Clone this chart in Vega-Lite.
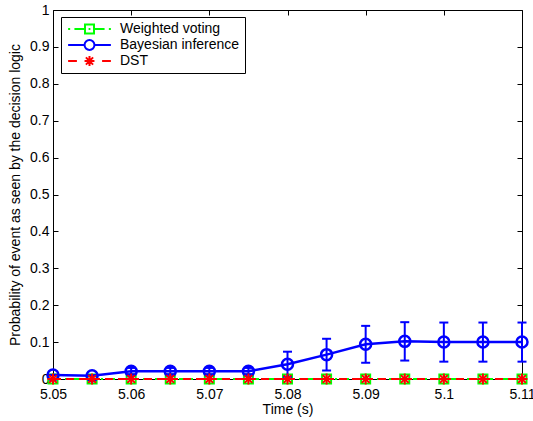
{
  "$schema": "https://vega.github.io/schema/vega-lite/v6.json",
  "width": 469,
  "height": 369,
  "autosize": "none",
  "padding": {"left": 53, "top": 10, "right": 11, "bottom": 42},
  "background": "white",
  "config": {
    "view": {"stroke": null},
    "font": "Liberation Sans",
    "axis": {
      "grid": false,
      "domainColor": "black",
      "domainWidth": 1,
      "tickColor": "black",
      "tickWidth": 1,
      "tickSize": -5,
      "labelFlush": false,
      "labelOverlap": false,
      "labelFont": "Liberation Sans",
      "labelFontSize": 14,
      "labelColor": "black",
      "titleFont": "Liberation Sans",
      "titleFontSize": 14,
      "titleFontWeight": "normal",
      "titleColor": "black"
    }
  },
  "data": {
    "values": [
      {"s": "Weighted voting", "x": 5.05, "y": 0, "lo": 0, "hi": 0},
      {"s": "Weighted voting", "x": 5.055, "y": 0, "lo": 0, "hi": 0},
      {"s": "Weighted voting", "x": 5.06, "y": 0, "lo": 0, "hi": 0},
      {"s": "Weighted voting", "x": 5.065, "y": 0, "lo": 0, "hi": 0},
      {"s": "Weighted voting", "x": 5.07, "y": 0, "lo": 0, "hi": 0},
      {"s": "Weighted voting", "x": 5.075, "y": 0, "lo": 0, "hi": 0},
      {"s": "Weighted voting", "x": 5.08, "y": 0, "lo": 0, "hi": 0},
      {"s": "Weighted voting", "x": 5.085, "y": 0, "lo": 0, "hi": 0},
      {"s": "Weighted voting", "x": 5.09, "y": 0, "lo": 0, "hi": 0},
      {"s": "Weighted voting", "x": 5.095, "y": 0, "lo": 0, "hi": 0},
      {"s": "Weighted voting", "x": 5.1, "y": 0, "lo": 0, "hi": 0},
      {"s": "Weighted voting", "x": 5.105, "y": 0, "lo": 0, "hi": 0},
      {"s": "Weighted voting", "x": 5.11, "y": 0, "lo": 0, "hi": 0},
      {"s": "Bayesian inference", "x": 5.05, "y": 0.011, "lo": 0.011, "hi": 0.011},
      {"s": "Bayesian inference", "x": 5.055, "y": 0.009, "lo": 0.009, "hi": 0.009},
      {"s": "Bayesian inference", "x": 5.06, "y": 0.021, "lo": 0.013, "hi": 0.03},
      {"s": "Bayesian inference", "x": 5.065, "y": 0.021, "lo": 0.013, "hi": 0.03},
      {"s": "Bayesian inference", "x": 5.07, "y": 0.021, "lo": 0.013, "hi": 0.03},
      {"s": "Bayesian inference", "x": 5.075, "y": 0.021, "lo": 0.013, "hi": 0.03},
      {"s": "Bayesian inference", "x": 5.08, "y": 0.04, "lo": 0.006, "hi": 0.074},
      {"s": "Bayesian inference", "x": 5.085, "y": 0.066, "lo": 0.023, "hi": 0.109},
      {"s": "Bayesian inference", "x": 5.09, "y": 0.094, "lo": 0.044, "hi": 0.144},
      {"s": "Bayesian inference", "x": 5.095, "y": 0.102, "lo": 0.05, "hi": 0.154},
      {"s": "Bayesian inference", "x": 5.1, "y": 0.1, "lo": 0.047, "hi": 0.153},
      {"s": "Bayesian inference", "x": 5.105, "y": 0.1, "lo": 0.047, "hi": 0.153},
      {"s": "Bayesian inference", "x": 5.11, "y": 0.1, "lo": 0.047, "hi": 0.153},
      {"s": "DST", "x": 5.05, "y": 0, "lo": 0, "hi": 0},
      {"s": "DST", "x": 5.055, "y": 0, "lo": 0, "hi": 0},
      {"s": "DST", "x": 5.06, "y": 0, "lo": 0, "hi": 0},
      {"s": "DST", "x": 5.065, "y": 0, "lo": 0, "hi": 0},
      {"s": "DST", "x": 5.07, "y": 0, "lo": 0, "hi": 0},
      {"s": "DST", "x": 5.075, "y": 0, "lo": 0, "hi": 0},
      {"s": "DST", "x": 5.08, "y": 0, "lo": 0, "hi": 0},
      {"s": "DST", "x": 5.085, "y": 0, "lo": 0, "hi": 0},
      {"s": "DST", "x": 5.09, "y": 0, "lo": 0, "hi": 0},
      {"s": "DST", "x": 5.095, "y": 0, "lo": 0, "hi": 0},
      {"s": "DST", "x": 5.1, "y": 0, "lo": 0, "hi": 0},
      {"s": "DST", "x": 5.105, "y": 0, "lo": 0, "hi": 0},
      {"s": "DST", "x": 5.11, "y": 0, "lo": 0, "hi": 0}
    ]
  },
  "resolve": {"axis": {"x": "independent", "y": "independent"}},
  "layer": [
    {
      "transform": [{"filter": "datum.s === 'Weighted voting'"}],
      "mark": {"type": "line", "color": "#00ff00", "strokeWidth": 2, "strokeDash": [8, 4, 2, 4]},
      "encoding": {
        "x": {"field": "x", "type": "quantitative", "scale": {"domain": [5.05, 5.11], "nice": false, "zero": false},
          "axis": {"orient": "bottom", "values": [5.05, 5.06, 5.07, 5.08, 5.09, 5.1, 5.11], "format": "~g", "labelPadding": 13, "title": "Time (s)", "titleX": 234.5, "titleY": 34, "titleBaseline": "alphabetic", "titleAlign": "center"}},
        "y": {"field": "y", "type": "quantitative", "scale": {"domain": [0, 1], "nice": false},
          "axis": {"orient": "left", "values": [0, 0.1, 0.2, 0.3, 0.4, 0.5, 0.6, 0.7, 0.8, 0.9, 1], "format": "~g", "labelPadding": 9, "title": "Probability of event as seen by the decision logic", "titleX": -34, "titleY": 184.5, "titleAngle": -90, "titleBaseline": "alphabetic", "titleAlign": "center"}}
      }
    },
    {
      "transform": [{"filter": "datum.s === 'Weighted voting'"}],
      "mark": {"type": "point", "shape": "square", "size": 81, "filled": false, "color": "#00ff00", "strokeWidth": 2, "opacity": 1},
      "encoding": {
        "x": {"field": "x", "type": "quantitative", "axis": {"orient": "top", "values": [5.05, 5.06, 5.07, 5.08, 5.09, 5.1, 5.11], "labels": false, "title": null}},
        "y": {"field": "y", "type": "quantitative", "axis": {"orient": "right", "values": [0, 0.1, 0.2, 0.3, 0.4, 0.5, 0.6, 0.7, 0.8, 0.9, 1], "labels": false, "title": null}}
      }
    },
    {
      "transform": [{"filter": "datum.s === 'Bayesian inference'"}],
      "mark": {"type": "rule", "color": "#0000ff", "strokeWidth": 2},
      "encoding": {
        "x": {"field": "x", "type": "quantitative", "axis": null},
        "y": {"field": "lo", "type": "quantitative", "axis": null},
        "y2": {"field": "hi"}
      }
    },
    {
      "transform": [{"filter": "datum.s === 'Bayesian inference'"}],
      "mark": {"type": "tick", "orient": "horizontal", "color": "#0000ff", "size": 9, "thickness": 2, "opacity": 1},
      "encoding": {
        "x": {"field": "x", "type": "quantitative", "axis": null},
        "y": {"field": "lo", "type": "quantitative", "axis": null}
      }
    },
    {
      "transform": [{"filter": "datum.s === 'Bayesian inference'"}],
      "mark": {"type": "tick", "orient": "horizontal", "color": "#0000ff", "size": 9, "thickness": 2, "opacity": 1},
      "encoding": {
        "x": {"field": "x", "type": "quantitative", "axis": null},
        "y": {"field": "hi", "type": "quantitative", "axis": null}
      }
    },
    {
      "transform": [{"filter": "datum.s === 'Bayesian inference'"}],
      "mark": {"type": "line", "color": "#0000ff", "strokeWidth": 2.5},
      "encoding": {
        "x": {"field": "x", "type": "quantitative", "axis": null},
        "y": {"field": "y", "type": "quantitative", "axis": null}
      }
    },
    {
      "transform": [{"filter": "datum.s === 'Bayesian inference'"}],
      "mark": {"type": "point", "shape": "circle", "size": 121, "filled": false, "color": "#0000ff", "strokeWidth": 2.5, "opacity": 1},
      "encoding": {
        "x": {"field": "x", "type": "quantitative", "axis": null},
        "y": {"field": "y", "type": "quantitative", "axis": null}
      }
    },
    {
      "transform": [{"filter": "datum.s === 'DST'"}],
      "mark": {"type": "line", "color": "#ff0000", "strokeWidth": 2, "strokeDash": [8, 5]},
      "encoding": {
        "x": {"field": "x", "type": "quantitative", "axis": null},
        "y": {"field": "y", "type": "quantitative", "axis": null}
      }
    },
    {
      "transform": [{"filter": "datum.s === 'DST'"}],
      "mark": {"type": "point", "shape": "M-1,0H1M0,-1V1M-0.7,-0.7L0.7,0.7M-0.7,0.7L0.7,-0.7", "size": 121, "filled": false, "color": "#ff0000", "strokeWidth": 2, "opacity": 1},
      "encoding": {
        "x": {"field": "x", "type": "quantitative", "axis": null},
        "y": {"field": "y", "type": "quantitative", "axis": null}
      }
    },
    {
      "mark": {"type": "point", "filled": false, "opacity": 0, "size": 2025, "strokeWidth": 2},
      "encoding": {
        "x": {"field": "x", "type": "quantitative", "axis": null},
        "y": {"field": "y", "type": "quantitative", "axis": null},
        "color": {"field": "s", "type": "nominal",
          "scale": {"domain": ["Weighted voting", "Bayesian inference", "DST"], "range": ["#00ff00", "#0000ff", "#ff0000"]},
          "legend": {"orient": "none", "legendX": 8, "legendY": 7, "title": null, "strokeColor": "black", "fillColor": "white", "padding": 5, "cornerRadius": 0, "symbolSize": 2025, "symbolStrokeWidth": 2, "symbolOpacity": 1, "labelFont": "Liberation Sans", "labelFontSize": 14, "labelColor": "black", "labelOffset": 7, "symbolOffset": 0, "rowPadding": 2, "clipHeight": 14}},
        "shape": {"field": "s", "type": "nominal",
          "scale": {"domain": ["Weighted voting", "Bayesian inference", "DST"], "range": [
            "M-0.95,0H-0.86M-0.67,0H-0.2M0.2,0H0.67M0.86,0H0.95M-0.2,-0.2H0.2V0.2H-0.2ZM-0.04,0H0.04",
            "M-0.95,0H-0.22M0.22,0H0.95M-0.22,0A0.22,0.22 0 1,1 0.22,0A0.22,0.22 0 1,1 -0.22,0",
            "M-0.95,0H-0.56M0.56,0H0.95M-0.22,0H0.22M0,-0.22V0.22M-0.16,-0.16L0.16,0.16M-0.16,0.16L0.16,-0.16"
          ]}}
      }
    }
  ]
}
